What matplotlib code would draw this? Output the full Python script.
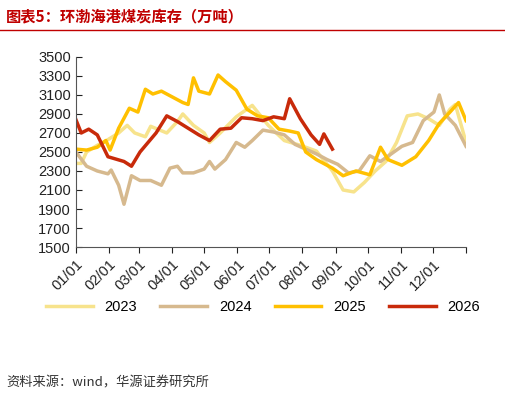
import matplotlib.pyplot as plt
import numpy as np

plt.rcParams['font.family'] = ['Liberation Sans', 'Noto Sans CJK SC', 'DejaVu Sans']

# day of year, value (万吨)
d26 = [0, 5, 12, 20, 30, 45, 52, 60, 75, 85, 95, 105, 115, 125, 135, 145, 155, 165, 175, 185, 195, 200, 210, 220, 228, 232, 240]
v26 = [2840, 2700, 2740, 2680, 2450, 2400, 2350, 2500, 2700, 2880, 2820, 2750, 2680, 2620, 2740, 2750, 2860, 2850, 2830, 2870, 2850, 3060, 2850, 2680, 2580, 2690, 2530]

d25 = [0, 10, 20, 28, 32, 40, 50, 58, 65, 72, 80, 90, 100, 105, 110, 115, 125, 133, 140, 150, 160, 170, 180, 190, 200, 208, 215, 225, 240, 250, 262, 275, 285, 292, 305, 318, 330, 340, 350, 358, 365]
v25 = [2530, 2520, 2550, 2620, 2520, 2750, 2960, 2920, 3160, 3110, 3140, 3080, 3020, 3000, 3280, 3140, 3110, 3310, 3240, 3150, 2950, 2880, 2860, 2740, 2720, 2700, 2500, 2420, 2330, 2250, 2300, 2260, 2550, 2420, 2360, 2450, 2620, 2800, 2920, 3020, 2830]

d24 = [0, 10, 20, 30, 33, 40, 45, 52, 60, 70, 80, 88, 95, 100, 110, 120, 125, 130, 140, 150, 158, 165, 175, 185, 195, 205, 215, 225, 235, 245, 255, 265, 275, 285, 295, 305, 315, 325, 335, 340, 345, 355, 365]
v24 = [2500, 2350, 2300, 2270, 2310, 2150, 1950, 2250, 2200, 2200, 2150, 2330, 2350, 2280, 2280, 2320, 2400, 2320, 2420, 2600, 2550, 2620, 2730, 2710, 2680, 2580, 2530, 2480, 2420, 2370, 2280, 2300, 2460, 2400, 2480, 2560, 2600, 2830, 2920, 3100, 2900, 2780, 2560]

d23 = [0, 5, 10, 20, 30, 40, 48, 55, 65, 70, 85, 95, 100, 110, 120, 125, 135, 150, 165, 180, 195, 210, 225, 240, 250, 260, 270, 280, 290, 300, 310, 320, 330, 340, 350, 355, 365]
v23 = [2380, 2380, 2500, 2570, 2630, 2700, 2780, 2700, 2660, 2770, 2700, 2820, 2900, 2780, 2700, 2600, 2700, 2870, 2990, 2780, 2620, 2570, 2510, 2300, 2100, 2080, 2180, 2300, 2400, 2600, 2880, 2900, 2850, 2780, 2950, 3000, 2600]

months = ['01/01', '02/01', '03/01', '04/01', '05/01', '06/01', '07/01', '08/01', '09/01', '10/01', '11/01', '12/01']
month_days = [0, 31, 59, 90, 120, 151, 181, 212, 243, 273, 304, 334]

fig = plt.figure(figsize=(5.06, 4.01), dpi=100)
ax = fig.add_axes([0.150, 0.384, 0.771, 0.474])

ax.plot(d23, v23, color='#F7E38C', lw=2.5, label='2023')
ax.plot(d24, v24, color='#D6B98E', lw=2.5, label='2024')
ax.plot(d25, v25, color='#FFC000', lw=2.5, label='2025')
ax.plot(d26, v26, color='#C82A0A', lw=2.5, label='2026')

ax.set_xlim(0, 365)
ax.set_ylim(1500, 3500)
ax.set_yticks(range(1500, 3501, 200))
ax.set_xticks(month_days + [365])
ax.set_xticklabels(months + [''], rotation=45, ha='right', rotation_mode='anchor')
ax.tick_params(labelsize=10.5, length=4, direction='in', colors='#222222')
ax.tick_params(axis='x', direction='out', pad=3)
for s in ['top', 'right']:
    ax.spines[s].set_visible(False)
for s in ['left', 'bottom']:
    ax.spines[s].set_color('#555555')

fig.legend(loc='center', bbox_to_anchor=(0.52, 0.235), ncol=4, frameon=False,
           fontsize=10.5, handlelength=3.2, columnspacing=1.6)

fig.text(0.012, 0.96, '图表5：环渤海港煤炭库存（万吨）', color='#C00000', fontsize=11,
         fontweight='bold', va='center', family=['Noto Sans CJK SC', 'DejaVu Sans'])
fig.add_artist(plt.Line2D([0.0, 1.0], [0.925, 0.925], color='#C00000', lw=1))
fig.text(0.012, 0.045, '资料来源：wind，华源证券研究所', color='#333333', fontsize=9.5, va='center',
         family=['Noto Sans CJK SC', 'DejaVu Sans'])

fig.savefig('out.png', dpi=100)
